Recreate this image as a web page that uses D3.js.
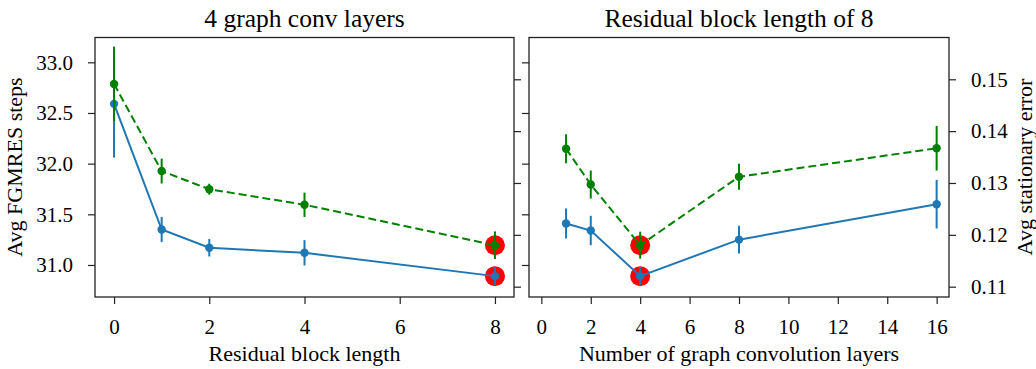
<!DOCTYPE html>
<html>
<head>
<meta charset="utf-8">
<script src="https://cdn.jsdelivr.net/npm/d3@7"></script>
<style>
  body { margin: 0; background: #fff; }
  svg { display: block; }
  text { font-family: "Liberation Serif", "DejaVu Serif", serif; fill: #000; }
  .domain { stroke: #222; }
  .tick line { stroke: #222; }
</style>
</head>
<body>
<div id="chart"></div>
<script>
// left panel: 4 graph conv layers, varying residual block length
const resLen = [0, 1, 2, 4, 8];
const resSteps = [32.59, 31.35, 31.17, 31.12, 30.89];
const resStepsErr = [0.53, 0.124, 0.086, 0.125, 0.089];
const resStatErr = [0.1491, 0.1323, 0.1288, 0.1258, 0.1180];
const resStatErrErr = [0.0072, 0.0024, 0.00106, 0.00235, 0.00266];
const resBest = 8;

// right panel: residual block length 8, varying conv layers
const convLayers = [1, 2, 4, 8, 16];
const convSteps = [31.41, 31.34, 30.89, 31.25, 31.60];
const convStepsErr = [0.148, 0.145, 0.09, 0.137, 0.24];
const convStatErr = [0.1366, 0.1297, 0.1180, 0.1312, 0.1367];
const convStatErrErr = [0.0028, 0.0027, 0.0026, 0.0025, 0.0043];
const convBest = 4;

const stepTicks = [31.0, 31.5, 32.0, 32.5, 33.0];
const errTicks = [0.11, 0.12, 0.13, 0.14, 0.15];
const resTicks = [0, 2, 4, 6, 8];
const convTicks = [0, 2, 4, 6, 8, 10, 12, 14, 16];

const W = 1036, H = 369;
const plotTop = 37.5, plotBottom = 297;
const blue = '#1f77b4', green = '#008000';

const svg = d3.select('#chart').append('svg')
    .attr('width', W).attr('height', H);

const yStep = d3.scaleLinear().domain([30.684, 33.245]).range([plotBottom, plotTop]);
const yErr = d3.scaleLinear().domain([0.10801, 0.15806]).range([plotBottom, plotTop]);

function drawPanel(opt) {
    const x = d3.scaleLinear().domain(opt.xDomain).range([opt.left, opt.right]);
    const g = svg.append('g');

    // axes
    const ax = g.append('g').attr('transform', 'translate(0,' + plotBottom + ')')
        .call(d3.axisBottom(x).tickValues(opt.xTicks).tickFormat(d3.format('d'))
            .tickSize(7).tickPadding(15).tickSizeOuter(0));
    const al = g.append('g').attr('transform', 'translate(' + opt.left + ',0)')
        .call(d3.axisLeft(yStep).tickValues(stepTicks).tickSize(7).tickPadding(15).tickSizeOuter(0)
            .tickFormat(opt.leftLabels ? d3.format('.1f') : () => ''));
    const ar = g.append('g').attr('transform', 'translate(' + opt.right + ',0)')
        .call(d3.axisRight(yErr).tickValues(errTicks).tickSize(7).tickPadding(15).tickSizeOuter(0)
            .tickFormat(opt.rightLabels ? d3.format('.2f') : () => ''));
    [ax, al, ar].forEach(a => {
        a.selectAll('text').style('font-size', '21px');
        a.select('.domain').remove();
        a.selectAll('.tick line').attr('stroke-width', 1.2);
    });

    // frame
    g.append('rect')
        .attr('x', opt.left).attr('y', plotTop)
        .attr('width', opt.right - opt.left).attr('height', plotBottom - plotTop)
        .attr('fill', 'none').attr('stroke', '#222').attr('stroke-width', 1.3);

    // best marker
    const bi = opt.xs.indexOf(opt.best);
    g.append('circle').attr('cx', x(opt.best)).attr('cy', yStep(opt.steps[bi]))
        .attr('r', 10).attr('fill', '#ff0000');
    g.append('circle').attr('cx', x(opt.best)).attr('cy', yErr(opt.stat[bi]))
        .attr('r', 10).attr('fill', '#ff0000');

    const series = [
        {vals: opt.steps, errs: opt.stepsErr, y: yStep, color: blue, dash: null},
        {vals: opt.stat, errs: opt.statErr, y: yErr, color: green, dash: '8,4'}
    ];
    series.forEach(s => {
        const pts = opt.xs.map((v, i) => ({x: v, y: s.vals[i], e: s.errs[i]}));
        g.append('path').datum(pts)
            .attr('d', d3.line().x(d => x(d.x)).y(d => s.y(d.y)))
            .attr('fill', 'none').attr('stroke', s.color).attr('stroke-width', 2)
            .attr('stroke-dasharray', s.dash);
        g.selectAll(null).data(pts).enter().append('line')
            .attr('x1', d => x(d.x)).attr('x2', d => x(d.x))
            .attr('y1', d => s.y(d.y - d.e)).attr('y2', d => s.y(d.y + d.e))
            .attr('stroke', s.color).attr('stroke-width', 2);
        g.selectAll(null).data(pts).enter().append('circle')
            .attr('cx', d => x(d.x)).attr('cy', d => s.y(d.y))
            .attr('r', 4.2).attr('fill', s.color);
    });

    // titles and labels
    g.append('text').attr('x', (opt.left + opt.right) / 2).attr('y', 27)
        .attr('text-anchor', 'middle').style('font-size', '25.5px').text(opt.title);
    g.append('text').attr('x', (opt.left + opt.right) / 2).attr('y', 361)
        .attr('text-anchor', 'middle').style('font-size', '22px').text(opt.xLabel);
}

drawPanel({
    left: 95, right: 514, xDomain: [-0.4, 8.4], xTicks: resTicks,
    xs: resLen, steps: resSteps, stepsErr: resStepsErr, stat: resStatErr, statErr: resStatErrErr,
    best: resBest, leftLabels: true, rightLabels: false,
    title: '4 graph conv layers', xLabel: 'Residual block length'
});
drawPanel({
    left: 529, right: 949, xDomain: [-0.5, 16.5], xTicks: convTicks,
    xs: convLayers, steps: convSteps, stepsErr: convStepsErr, stat: convStatErr, statErr: convStatErrErr,
    best: convBest, leftLabels: false, rightLabels: true,
    title: 'Residual block length of 8', xLabel: 'Number of graph convolution layers'
});

svg.append('text').attr('transform', 'translate(22,167) rotate(-90)')
    .attr('text-anchor', 'middle').style('font-size', '22px').text('Avg FGMRES steps');
svg.append('text').attr('transform', 'translate(1032,167) rotate(-90)')
    .attr('text-anchor', 'middle').style('font-size', '22px').text('Avg stationary error');
</script>
</body>
</html>
